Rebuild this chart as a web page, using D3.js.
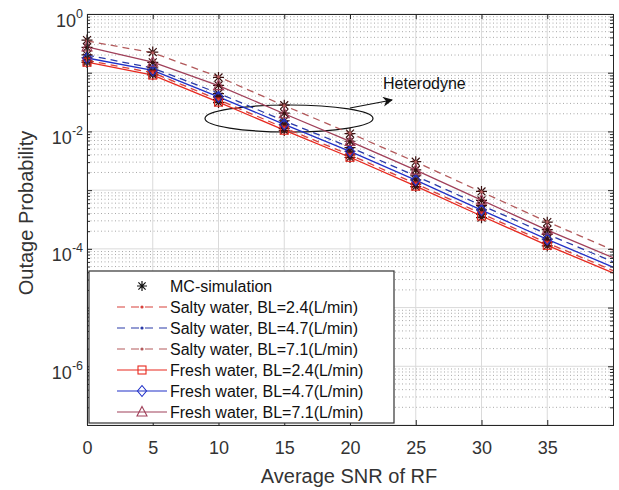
<!DOCTYPE html>
<html><head><meta charset="utf-8">
<script src="https://cdn.jsdelivr.net/npm/d3@7"></script>
<style>
body{margin:0;background:#fff}
svg{display:block;font-family:"Liberation Sans",Arial,Helvetica,sans-serif}
</style>
</head><body>
<svg id="c" width="619" height="490"></svg>
<script>
// ---- data ----
const snr = [0, 5, 10, 15, 20, 25, 30, 35, 40];
const mcSNR = [0, 5, 10, 15, 20, 25, 30, 35];
const xTicks = [0, 5, 10, 15, 20, 25, 30, 35];
const yTickExps = [0, -2, -4, -6];
const saltyBL24 = [0.162, 0.100, 0.0347, 0.0115, 0.00398, 0.00129, 0.000398, 0.000126, 0.0000427];
const saltyBL47 = [0.200, 0.120, 0.0447, 0.0151, 0.00537, 0.00174, 0.000550, 0.000178, 0.0000603];
const saltyBL71 = [0.347, 0.219, 0.0851, 0.0275, 0.00933, 0.00302, 0.000933, 0.000288, 0.0000955];
const freshBL24 = [0.151, 0.0912, 0.0316, 0.0105, 0.00363, 0.00117, 0.000363, 0.000115, 0.0000389];
const freshBL47 = [0.178, 0.110, 0.0389, 0.0132, 0.00457, 0.00148, 0.000457, 0.000145, 0.0000490];
const freshBL71 = [0.275, 0.151, 0.0603, 0.0200, 0.00676, 0.00219, 0.000676, 0.000209, 0.0000708];
// Monte-Carlo simulation points
const mcSaltyBL24 = [0.160, 0.099, 0.0350, 0.0113, 0.00400, 0.00127, 0.000390, 0.000127];
const mcSaltyBL47 = [0.202, 0.121, 0.0440, 0.0152, 0.00530, 0.00176, 0.000545, 0.000176];
const mcSaltyBL71 = [0.360, 0.225, 0.0830, 0.0280, 0.00920, 0.00305, 0.000950, 0.000285];
const mcFreshBL24 = [0.150, 0.092, 0.0312, 0.0104, 0.00360, 0.00115, 0.000340, 0.000112];
const mcFreshBL47 = [0.180, 0.111, 0.0392, 0.0130, 0.00460, 0.00150, 0.000460, 0.000147];
const mcFreshBL71 = [0.270, 0.150, 0.0610, 0.0205, 0.00680, 0.00221, 0.000670, 0.000212];

const legendLabels = ["MC-simulation",
  "Salty water, BL=2.4(L/min)", "Salty water, BL=4.7(L/min)", "Salty water, BL=7.1(L/min)",
  "Fresh water, BL=2.4(L/min)", "Fresh water, BL=4.7(L/min)", "Fresh water, BL=7.1(L/min)"];

const series = [
  {vals: saltyBL24, mc: mcSaltyBL24, color: "#d8403a", dash: "7,5", marker: "dot"},
  {vals: saltyBL47, mc: mcSaltyBL47, color: "#2a3aa8", dash: "7,5", marker: "dot"},
  {vals: saltyBL71, mc: mcSaltyBL71, color: "#b35a5c", dash: "7,5", marker: "dot"},
  {vals: freshBL24, mc: mcFreshBL24, color: "#e8281e", dash: null, marker: "square"},
  {vals: freshBL47, mc: mcFreshBL47, color: "#2030c8", dash: null, marker: "diamond"},
  {vals: freshBL71, mc: mcFreshBL71, color: "#a0405a", dash: null, marker: "triangle"}
];

// ---- layout ----
const L = 87, R = 613, T = 14, B = 425;
const svg = d3.select("#c");
const x = d3.scaleLinear().domain([0, 40]).range([L, R]);
const y = d3.scaleLog().domain([1e-7, 1]).range([B, T]);

svg.append("rect").attr("x", L).attr("y", T).attr("width", R - L).attr("height", B - T).attr("fill", "#fff");

// minor grid (horizontal dotted)
const minorVals = [];
for (let e = -7; e < 0; e++) for (let m = 2; m <= 9; m++) minorVals.push(m * Math.pow(10, e));
const grid = svg.append("g");
grid.selectAll("line.mn").data(minorVals).join("line")
  .attr("x1", L).attr("x2", R).attr("y1", d => y(d)).attr("y2", d => y(d))
  .attr("stroke", "#a8a8a8").attr("stroke-width", 1).attr("stroke-dasharray", "1,2.5");
// major grid
const majorY = d3.range(-7, 1).map(e => Math.pow(10, e));
grid.selectAll("line.mj").data(majorY).join("line")
  .attr("x1", L).attr("x2", R).attr("y1", d => y(d)).attr("y2", d => y(d))
  .attr("stroke", "#dadada").attr("stroke-width", 1);
grid.selectAll("line.mx").data(xTicks).join("line")
  .attr("x1", d => x(d)).attr("x2", d => x(d)).attr("y1", T).attr("y2", B)
  .attr("stroke", "#dadada").attr("stroke-width", 1);

// heterodyne annotation
svg.append("ellipse").attr("cx", 289).attr("cy", 118.5).attr("rx", 84).attr("ry", 13.5)
  .attr("fill", "none").attr("stroke", "#111").attr("stroke-width", 1.2);

// lines
const lineGen = d3.line().x((d, i) => x(snr[i])).y(d => y(d));
series.forEach(s => {
  svg.append("path").datum(s.vals).attr("d", lineGen)
    .attr("fill", "none").attr("stroke", s.color).attr("stroke-width", 1.3)
    .attr("stroke-dasharray", s.dash);
});

// marker helpers
function star(g, cx, cy, r, color) {
  const d = r * 0.72;
  g.append("path").attr("d",
    `M${cx - r},${cy}L${cx + r},${cy}M${cx},${cy - r}L${cx},${cy + r}` +
    `M${cx - d},${cy - d}L${cx + d},${cy + d}M${cx - d},${cy + d}L${cx + d},${cy - d}`)
    .attr("stroke", color).attr("stroke-width", 1.2).attr("fill", "none");
}
function marker(g, type, cx, cy, color) {
  if (type === "dot") {
    g.append("circle").attr("cx", cx).attr("cy", cy).attr("r", 1.6).attr("fill", color);
  } else if (type === "square") {
    g.append("rect").attr("x", cx - 4).attr("y", cy - 4).attr("width", 8).attr("height", 8)
      .attr("fill", "none").attr("stroke", color).attr("stroke-width", 1.1);
  } else if (type === "diamond") {
    g.append("path").attr("d", `M${cx},${cy - 5.5}L${cx + 4.5},${cy}L${cx},${cy + 5.5}L${cx - 4.5},${cy}Z`)
      .attr("fill", "none").attr("stroke", color).attr("stroke-width", 1.1);
  } else if (type === "triangle") {
    g.append("path").attr("d", `M${cx},${cy - 5.5}L${cx + 5},${cy + 4}L${cx - 5},${cy + 4}Z`)
      .attr("fill", "none").attr("stroke", color).attr("stroke-width", 1.1);
  }
}

const mg = svg.append("g");
series.forEach(s => {
  mcSNR.forEach((v, i) => star(mg, x(v), y(s.mc[i]), 5.5, "#3a1010"));
});
series.forEach(s => {
  mcSNR.forEach((v, i) => marker(mg, s.marker, x(v), y(s.vals[i]), s.color));
});

// arrow and label
svg.append("defs").append("marker").attr("id", "ah").attr("viewBox", "0 0 10 10")
  .attr("refX", 9).attr("refY", 5).attr("markerWidth", 12).attr("markerHeight", 10)
  .attr("markerUnits", "userSpaceOnUse").attr("orient", "auto")
  .append("path").attr("d", "M0,0L10,5L0,10L3,5Z").attr("fill", "#111");
svg.append("line").attr("x1", 350).attr("y1", 108).attr("x2", 392).attr("y2", 100)
  .attr("stroke", "#111").attr("stroke-width", 1.2).attr("marker-end", "url(#ah)");
svg.append("text").attr("x", 383).attr("y", 89).attr("font-size", 16).attr("fill", "#111").text("Heterodyne");

// axes (ticks inward, box on all sides)
const axB = svg.append("g").attr("transform", `translate(0,${B})`)
  .call(d3.axisBottom(x).tickValues(xTicks).tickSize(-5).tickPadding(16).tickFormat(d3.format("d")));
const axT = svg.append("g").attr("transform", `translate(0,${T})`)
  .call(d3.axisTop(x).tickValues(xTicks).tickSize(-5).tickFormat(""));
const axL = svg.append("g").attr("transform", `translate(${L},0)`)
  .call(d3.axisLeft(y).tickValues(majorY).tickSize(-5).tickFormat(""));
const axR = svg.append("g").attr("transform", `translate(${R},0)`)
  .call(d3.axisRight(y).tickValues(majorY).tickSize(-5).tickFormat(""));
const axLm = svg.append("g").attr("transform", `translate(${L},0)`)
  .call(d3.axisLeft(y).tickValues(minorVals).tickSize(-3).tickFormat(""));
const axRm = svg.append("g").attr("transform", `translate(${R},0)`)
  .call(d3.axisRight(y).tickValues(minorVals).tickSize(-3).tickFormat(""));
[axB, axT, axL, axR, axLm, axRm].forEach(a => {
  a.selectAll(".domain").attr("stroke", "#262626").attr("stroke-width", 1);
  a.selectAll(".tick line").attr("stroke", "#262626");
});
axB.selectAll(".tick text").attr("font-size", 18).attr("fill", "#333")
  .attr("font-family", "'Liberation Sans',Arial,sans-serif");

// y tick labels with superscripts
const yl = svg.append("g").attr("fill", "#333");
yTickExps.forEach(e => {
  const t = yl.append("text").attr("x", 83).attr("y", y(Math.pow(10, e)) + 12.5)
    .attr("text-anchor", "end").attr("font-size", 18);
  t.append("tspan").text("10");
  t.append("tspan").attr("font-size", 12.5).attr("dy", -9).text(e === 0 ? "0" : "-" + Math.abs(e));
});

// axis titles
svg.append("text").attr("x", 349).attr("y", 483).attr("text-anchor", "middle")
  .attr("font-size", 20).attr("fill", "#333").text("Average SNR of RF");
svg.append("text").attr("transform", "translate(33,213) rotate(-90)").attr("text-anchor", "middle")
  .attr("font-size", 20).attr("fill", "#333").text("Outage Probability");

// legend
const lg = svg.append("g");
lg.append("rect").attr("x", 89).attr("y", 271).attr("width", 305).attr("height", 152)
  .attr("fill", "#fff").attr("stroke", "#333").attr("stroke-width", 1.2);
legendLabels.forEach((lab, i) => {
  const ry = 286 + i * 21;
  if (i === 0) {
    star(lg, 142, ry, 5, "#111");
  } else {
    const s = series[i - 1];
    lg.append("line").attr("x1", 117).attr("x2", 167).attr("y1", ry).attr("y2", ry)
      .attr("stroke", s.color).attr("stroke-width", 1.2).attr("stroke-dasharray", s.dash ? "8,6" : null);
    marker(lg, s.marker, 142, ry, s.color);
  }
  lg.append("text").attr("x", 170).attr("y", ry + 5.5).attr("font-size", 16).attr("fill", "#111").text(lab);
});
</script>
</body></html>
